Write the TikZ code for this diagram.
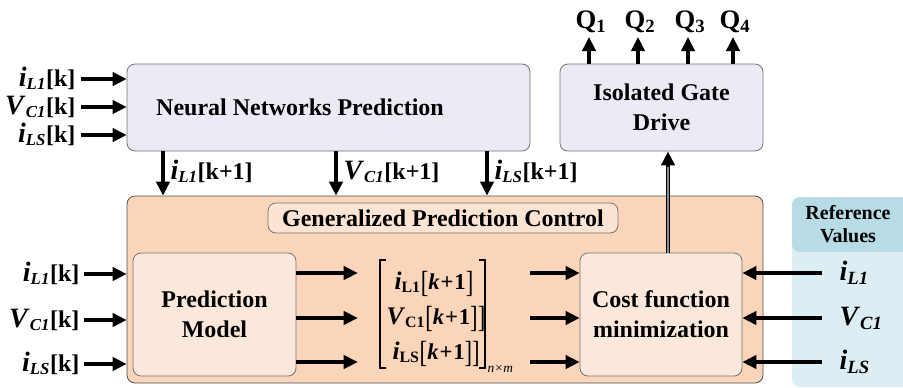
\documentclass[tikz,border=0pt]{standalone}
\usepackage{amsmath}
\usepackage{graphicx}
\usepackage{fontspec}
\setmainfont{Liberation Serif}
\usetikzlibrary{arrows.meta,calc,fit}

\definecolor{nnfill}{HTML}{ECEBF5}
\definecolor{gpcfill}{HTML}{FAD5BA}
\definecolor{gpclbl}{HTML}{FCE4D2}
\definecolor{innerfill}{HTML}{FCE8DA}
\definecolor{reffill}{HTML}{DCEEF3}
\definecolor{refhead}{HTML}{B7DCE6}

% bold italic variable (slightly enlarged) with bold italic subscript
\newcommand\vbi[2]{{\fontsize{21}{22}\selectfont\textbf{\textit{#1}}}\textsubscript{\textbf{\textit{#2}}}}
% bold italic variable with upright bold subscript (vector entries)
\newcommand\vbu[2]{{\fontsize{19}{22}\selectfont\textbf{\textit{#1}}}\textsubscript{\textbf{#2}}}
% thin, tall bracket
\newcommand\tbr[1]{\raisebox{-0.17em}{\scalebox{1}[1.35]{\mdseries #1}}}
\newcommand\kpo{\tbr{[}\textit{k}\hspace{0.04em}+\hspace{0.04em}1\tbr{]}}

\begin{document}
\begin{tikzpicture}[x=0.75pt,y=-0.75pt,
  font=\fontsize{18}{22.5}\selectfont\bfseries,
  box/.style={draw=black!55,line width=0.6pt,rounded corners=6pt,inner sep=0pt},
  arr/.style={line width=2.3pt,-{Triangle[length=10.5pt,width=10pt]}},
  lbl/.style={inner sep=1pt},
]
\useasboundingbox (0,0) rectangle (903,387);

% ---------- reference panel ----------
\fill[reffill,rounded corners=6pt] (792,197) rectangle (915,387);
\node[fill=refhead,rounded corners=6pt,inner sep=0pt,fit={(792,197) (915,252)}] (refh) {};
\node[align=center,font=\fontsize{15}{17.5}\selectfont\bfseries] at (848,224) {Reference\\Values};

% ---------- top blocks ----------
\node[box,fill=nnfill,fit={(127,64) (530,151)}] (nn) {};
\node at (300,107) {Neural Networks Prediction};

\node[box,fill=nnfill,fit={(560,64) (763,151)}] (gate) {};
\node[align=center] at (gate.center) {Isolated Gate\\Drive};

% ---------- generalized prediction control ----------
\node[box,draw=black!70,fill=gpcfill,fit={(127,196) (763,383)}] (gpc) {};
\node[box,fill=gpclbl,fit={(268,203) (618,233)}] (gpct) {};
\node at (gpct.center) {Generalized Prediction Control};

\node[box,fill=innerfill,fit={(133,253) (296,376)}] (pm) {};
\node[align=center] at (pm.center) {Prediction\\Model};

\node[box,fill=innerfill,fit={(580,253) (742,376)}] (cost) {};
\node[align=center] at (cost.center) {Cost function\\minimization};

% prediction vector
\node[inner sep=0pt,fit={(358,258) (530,370)}] (mat) {};
\draw[line width=0.9pt] (386,260) -- (380,260) -- (380,368) -- (386,368);
\draw[line width=0.9pt] (479,260) -- (485,260) -- (485,368) -- (479,368);
\begin{scope}[font=\fontsize{17}{20}\selectfont\bfseries]
\node[lbl,anchor=base west] (m1) at (393,289) {\vbu{i}{L1}\kpo};
\node[lbl,anchor=base west] (m2) at (385,324) {\vbu{V}{C1}\kpo\tbr{]}};
\node[lbl,anchor=base west] (m3) at (391,359) {\vbu{i}{LS}\kpo\tbr{]}};
\end{scope}
\node[lbl,anchor=west,font=\fontsize{10}{12}\selectfont\itshape] at (486,369) {n×m};

% ---------- outputs Q1..Q4 ----------
\foreach \x/\q in {589/1,638/2,688/3,733/4}{
  \node[lbl,anchor=base,font=\fontsize{20}{22}\selectfont\bfseries] (q\q) at (\x+2,28) {Q\textsubscript{\q}};
  \draw[arr] (\x,64) -- (\x,37);
}

% ---------- neural network inputs ----------
\node[lbl,anchor=base east] (ni1) at (77,86) {\vbi{i}{L1}[k]};
\node[lbl,anchor=base east] (ni2) at (77,114) {\vbi{V}{C1}[k]};
\node[lbl,anchor=base east] (ni3) at (77,142) {\vbi{i}{LS}[k]};
\foreach \n/\y in {1/79,2/107,3/135}{
  \coordinate (nit\n) at (81,\y);
  \draw[arr] (nit\n) -- (nit\n -| nn.west);
}

% ---------- neural network predictions ----------
\coordinate (d1) at (163,0);
\coordinate (d2) at (336,0);
\coordinate (d3) at (487,0);
\draw[arr] (d1 |- nn.south) -- (d1 |- gpc.north);
\draw[arr] (d2 |- nn.south) -- (d2 |- gpc.north);
\draw[arr] (d3 |- nn.south) -- (d3 |- gpc.north);
\node[lbl,anchor=base west] (dl1) at (169,179) {\vbi{i}{L1}[k+1]};
\node[lbl,anchor=base west] (dl2) at (342,179) {\vbi{V}{C1}[k+1]};
\node[lbl,anchor=base west] (dl3) at (493,179) {\vbi{i}{LS}[k+1]};

% ---------- GPC inputs ----------
\node[lbl,anchor=base east] (gi1) at (81,281) {\vbi{i}{L1}[k]};
\node[lbl,anchor=base east] (gi2) at (81,327) {\vbi{V}{C1}[k]};
\node[lbl,anchor=base east] (gi3) at (81,371) {\vbi{i}{LS}[k]};
\foreach \n/\y in {1/274,2/320,3/364}{
  \coordinate (git\n) at (84,\y);
  \draw[arr] (git\n) -- (git\n -| gpc.west);
}

% ---------- model -> vector -> cost ----------
\foreach \n/\y in {1/273,2/318,3/362}{
  \coordinate (r\n) at (0,\y);
  \draw[arr] (r\n -| pm.east) -- (r\n -| mat.west);
  \draw[arr] (r\n -| mat.east) -- (r\n -| cost.west);
}

% ---------- reference values ----------
\node[lbl,anchor=base west,font=\fontsize{20}{22}\selectfont\bfseries] (ref1) at (838,280) {\vbi{i}{L1}};
\node[lbl,anchor=base west,font=\fontsize{20}{22}\selectfont\bfseries] (ref2) at (838,325) {\vbi{V}{C1}};
\node[lbl,anchor=base west,font=\fontsize{20}{22}\selectfont\bfseries] (ref3) at (838,369) {\vbi{i}{LS}};
\foreach \n in {1,2,3}{
  \draw[arr] (822,0 |- r\n) -- (r\n -| cost.east);
}

% ---------- cost function -> gate drive ----------
\coordinate (up) at (668,0);
\draw[line width=1pt,double=black!45,double distance=1.1pt] (up |- cost.north) -- ($(up |- gate.south)+(0,12)$);
\draw[arr] ($(up |- gate.south)+(0,16)$) -- (up |- gate.south);
\end{tikzpicture}
\end{document}
